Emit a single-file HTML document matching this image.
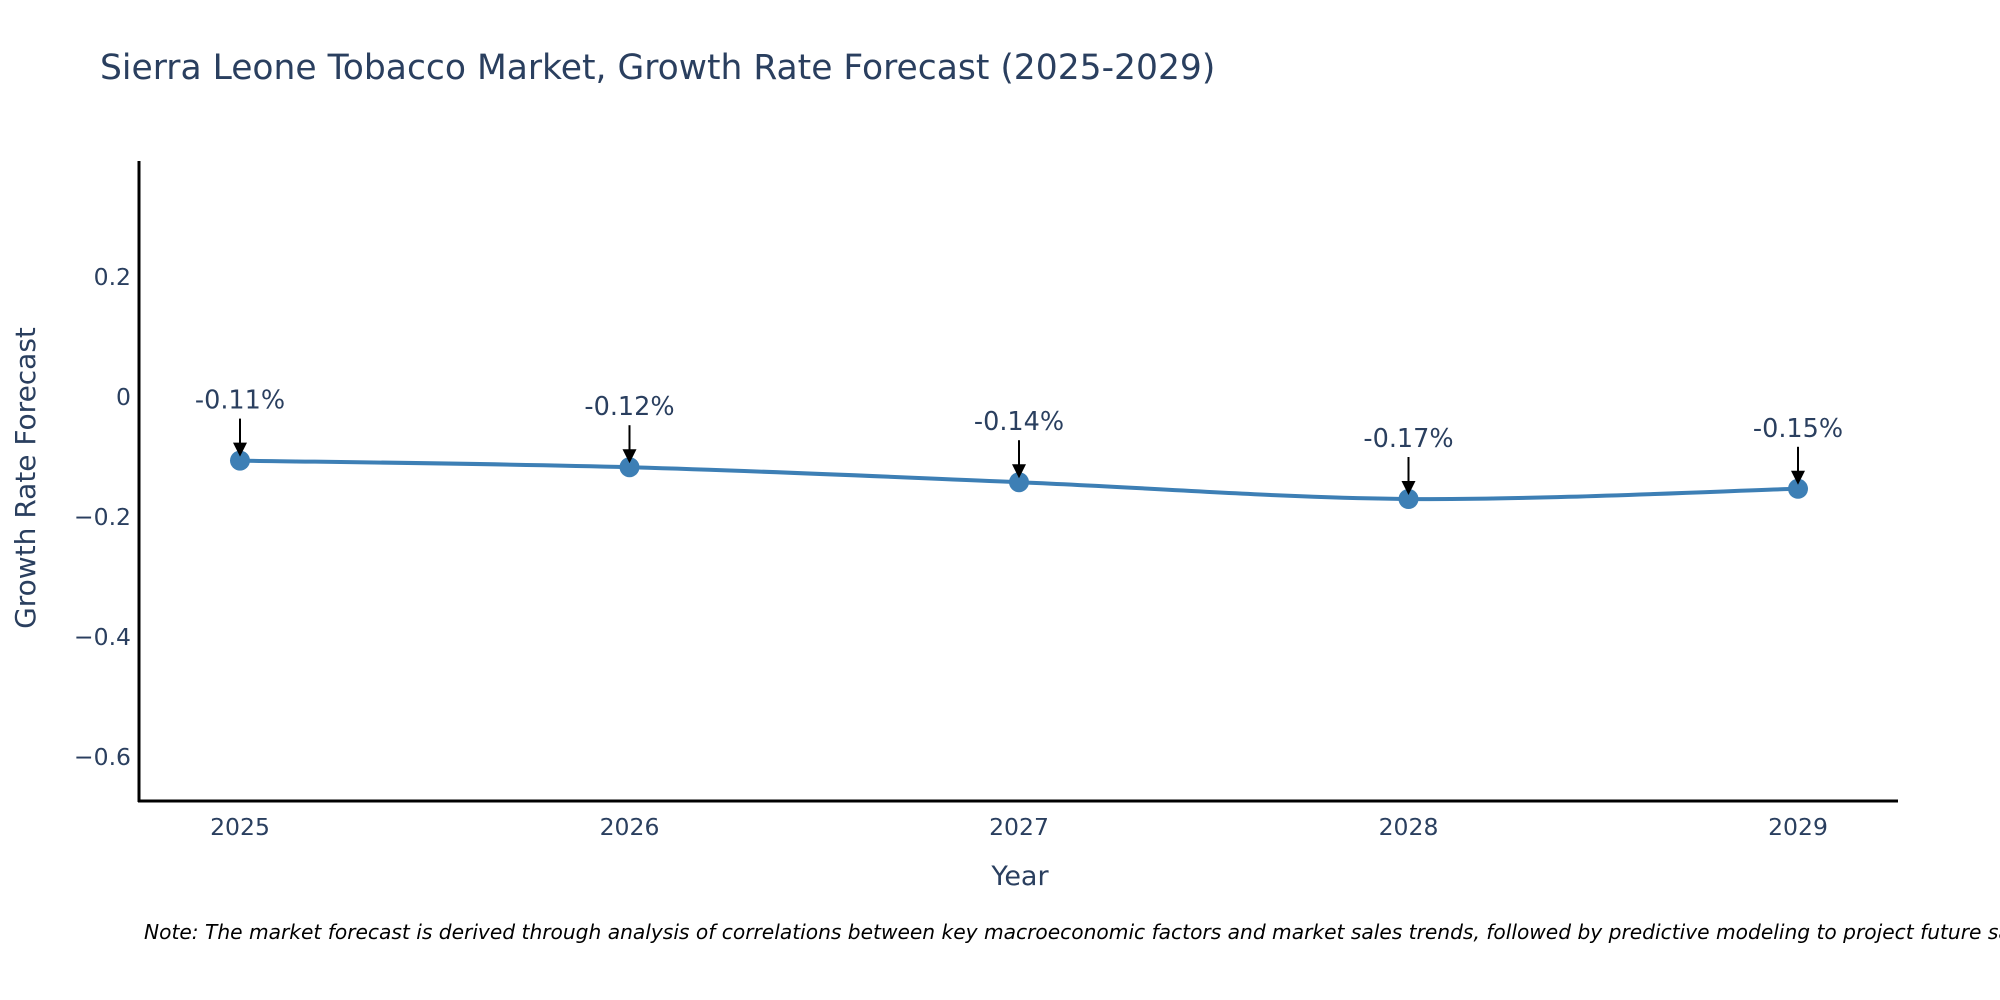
<!DOCTYPE html>
<html><head><meta charset="utf-8"><style>
html,body{margin:0;padding:0;background:#fff;width:2000px;height:1000px;overflow:hidden}
svg text{font-family:"DejaVu Sans","Liberation Sans",sans-serif;fill:#2a3f5f}
</style></head><body>
<svg id="chart" width="2000" height="1000" xmlns="http://www.w3.org/2000/svg">
<text x="100" y="79" font-size="34.5">Sierra Leone Tobacco Market, Growth Rate Forecast (2025-2029)</text>
<g id="yticks"></g>
<g id="xticks"></g>
<line x1="139" y1="161" x2="139" y2="802" stroke="#000" stroke-width="3"/>
<line x1="138" y1="801" x2="1898" y2="801" stroke="#000" stroke-width="3"/>
<path id="line" fill="none" stroke="#3d7fb5" stroke-width="4"/>
<g id="marks"></g>
<text x="1020" y="885" font-size="27" text-anchor="middle">Year</text>
<text transform="translate(35,478) rotate(-90)" font-size="28" text-anchor="middle">Growth Rate Forecast</text>
<text x="144" y="939" font-size="20.2" font-style="italic" style="fill:#000">Note: The market forecast is derived through analysis of correlations between key macroeconomic factors and market sales trends, followed by predictive modeling to project future sales.</text>
</svg>
<script>
const years = [2025, 2026, 2027, 2028, 2029];
const values = [-0.106, -0.117, -0.142, -0.170, -0.153];
const labels = ["-0.11%", "-0.12%", "-0.14%", "-0.17%", "-0.15%"];
const yTicks = [0.2, 0, -0.2, -0.4, -0.6];
const yTickLabels = ["0.2", "0", "\u22120.2", "\u22120.4", "\u22120.6"];
const NS = "http://www.w3.org/2000/svg";
function xs(v){return 240 + (v-2025)*389.5;}
function ys(v){return 397 - v*600;}
function mk(t,a,p){const e=document.createElementNS(NS,t);for(const k in a)e.setAttribute(k,a[k]);p.appendChild(e);return e;}
const yg=document.getElementById('yticks');
yTicks.forEach((t,i)=>{const e=mk('text',{x:131,y:ys(t)+8,'font-size':23.5,'text-anchor':'end'},yg);


e.textContent=yTickLabels[i];});
const xg=document.getElementById('xticks');
years.forEach(y=>{const e=mk('text',{x:xs(y),y:835,'font-size':23.5,'text-anchor':'middle'},xg);


e.textContent=y;});
const P=years.map((y,i)=>[xs(y),ys(values[i])]);
let d='M'+P[0][0]+','+P[0][1];
for(let i=0;i<P.length-1;i++){const p0=P[i-1]||P[i],p1=P[i],p2=P[i+1],p3=P[i+2]||p2,k=1/6;
d+=` C${p1[0]+(p2[0]-p0[0])*k},${p1[1]+(p2[1]-p0[1])*k} ${p2[0]-(p3[0]-p1[0])*k},${p2[1]-(p3[1]-p1[1])*k} ${p2[0]},${p2[1]}`;}
document.getElementById('line').setAttribute('d',d);
const mg=document.getElementById('marks');
P.forEach((p,i)=>{
const c=mk('circle',{cx:p[0],cy:p[1],r:10,fill:'#3d7fb5'},mg);


const l=mk('line',{x1:p[0],y1:p[1]-42,x2:p[0],y2:p[1]-16,stroke:'#000','stroke-width':2},mg);


const h=mk('polygon',{points:`${p[0]-7},${p[1]-18} ${p[0]+7},${p[1]-18} ${p[0]},${p[1]-4}`,fill:'#000'},mg);


const t=mk('text',{x:p[0],y:p[1]-52,'font-size':25.5,'text-anchor':'middle'},mg);


t.textContent=labels[i];});
</script>
</body></html>
